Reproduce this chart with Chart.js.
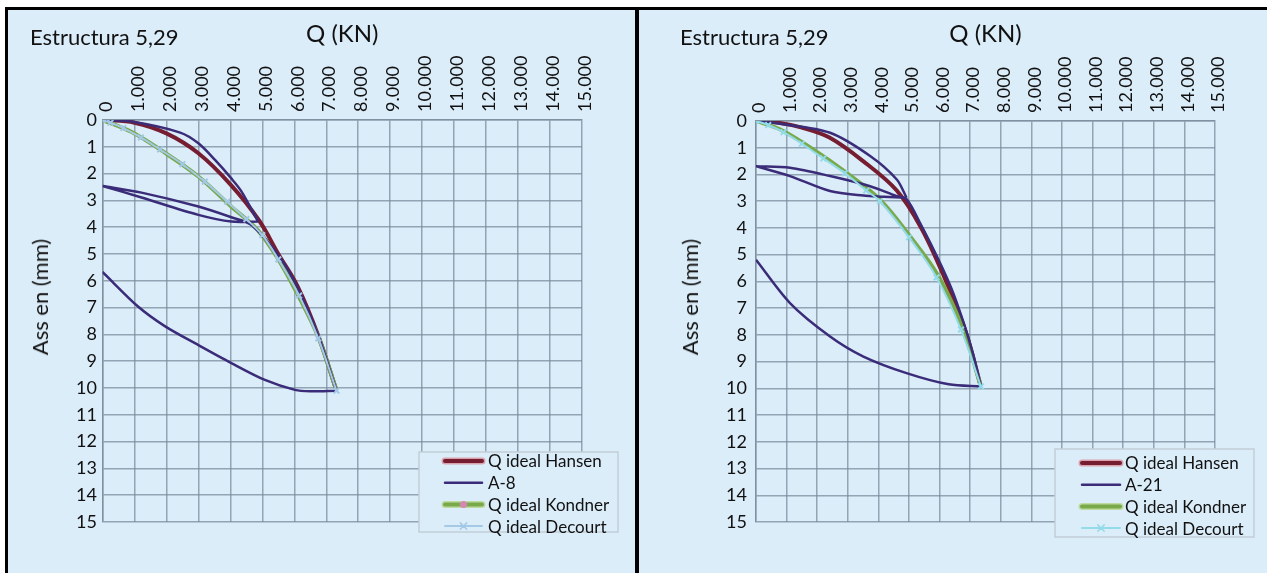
<!DOCTYPE html>
<html>
<head>
<meta charset="utf-8">
<script src="https://cdn.jsdelivr.net/npm/chart.js@4.4.0/dist/chart.umd.min.js"></script>
<style>
  body { margin: 0; background: #fff; font-family: Lato, "Open Sans", sans-serif; }
  #wrap { position: relative; width: 1267px; height: 573px; overflow: hidden; }
  .panel { position: absolute; top: 10px; height: 563px; background: #dcedfa; }
  .panel canvas { position: absolute; left: 0; top: 0; }
  .bar { position: absolute; background: #000; }
  .title { position: absolute; top: 14px; font-size: 22px; line-height: 26px; color: #111; white-space: nowrap; }
  .ytitle { position: absolute; font-size: 22px; line-height: 26px; color: #111; white-space: nowrap;
            transform: translate(-50%, -50%) rotate(-90deg); }
</style>
</head>
<body>
<div id="wrap">
  <div class="panel" style="left:8px;width:627px">
    <canvas id="leftChart" width="627" height="563"></canvas>
    <div class="title" style="left:22px">Estructura 5,29</div>
    <div class="ytitle" style="left:32px;top:287px">Ass en (mm)</div>
  </div>
  <div class="panel" style="left:639px;width:628px">
    <canvas id="rightChart" width="628" height="563"></canvas>
    <div class="title" style="left:41px">Estructura 5,29</div>
    <div class="ytitle" style="left:51px;top:287px">Ass en (mm)</div>
  </div>
  <div class="bar" style="left:5px;top:7px;width:1262px;height:3px"></div>
  <div class="bar" style="left:5px;top:7px;width:3px;height:566px"></div>
  <div class="bar" style="left:635px;top:7px;width:4px;height:566px"></div>
</div>

<script>
// Axis ranges
const loadMax = 15000;   // Q (KN)
const loadStep = 1000;
const settleMax = 15;    // Ass (mm)

// Left chart - load test A-8
const leftNames = ["Q ideal Hansen", "A-8", "Q ideal Kondner", "Q ideal Decourt"];
const leftHansenQ = [0, 1000, 2000, 3000, 4000, 4900, 5500, 6100, 6750, 7320];
const leftHansenS = [0, 0.1, 0.5, 1.24, 2.4, 3.75, 5.0, 6.2, 8.05, 10.1];
const leftTestQ = [0, 900, 2430, 3000, 3520, 4030, 4350, 4870, 4030, 3000, 1220, 0, 1220, 3000, 4030, 4660,
                   5500, 6100, 6750, 7320, 6500, 6020, 5080, 4030, 3000, 1960, 1120, 0];
const leftTestS = [0, 0.06, 0.47, 0.87, 1.49, 2.18, 2.67, 3.79, 3.79, 3.54, 2.89, 2.46, 2.71, 3.23, 3.63, 3.92,
                   5.05, 6.25, 8.05, 10.1, 10.12, 10.07, 9.7, 9.07, 8.4, 7.7, 6.97, 5.67];
const leftTestTurns = [7, 11, 19];   // load reversals (sharp corners)
const leftKondnerQ = [0, 900, 2000, 3000, 4000, 4850, 5500, 6100, 6750, 7320];
const leftKondnerS = [0, 0.44, 1.26, 2.11, 3.2, 4.1, 5.2, 6.5, 8.1, 10.1];
const leftDecourtQ = [0, 250, 650, 1200, 1800, 2500, 3200, 3900, 4500, 5000, 5500, 6150, 6750, 7320];
const leftDecourtS = [0, 0.1, 0.3, 0.65, 1.1, 1.65, 2.3, 3.05, 3.7, 4.3, 5.2, 6.55, 8.15, 10.1];

// Right chart - load test A-21
const rightNames = ["Q ideal Hansen", "A-21", "Q ideal Kondner", "Q ideal Decourt"];
const rightHansenQ = [0, 700, 1500, 2400, 3500, 4600, 5400, 6100, 6830, 7350];
const rightHansenS = [0, 0.06, 0.25, 0.62, 1.5, 2.6, 4.0, 5.7, 7.8, 9.93];
const rightTestQ = [0, 780, 2420, 3730, 4600, 4920, 4170, 3510, 2420, 1110, 0, 1110, 2420, 3730, 4600, 4920,
                    5400, 5950, 6400, 6800, 7100, 7350, 6300, 4920, 3510, 2420, 1110, 0];
const rightTestS = [0, 0.1, 0.44, 1.31, 2.19, 2.87, 2.83, 2.79, 2.62, 2.06, 1.69, 1.75, 2.06, 2.44, 2.81, 2.92,
                    3.9, 5.15, 6.3, 7.6, 8.74, 9.93, 9.85, 9.43, 8.81, 8.06, 6.81, 5.19];
const rightTestTurns = [5, 10, 21];
const rightKondnerQ = [0, 780, 1870, 2960, 4050, 5030, 5960, 6770, 7350];
const rightKondnerS = [0, 0.31, 1.06, 1.94, 2.94, 4.31, 5.8, 7.8, 9.93];
const rightDecourtQ = [0, 400, 900, 1500, 2200, 2900, 3600, 4050, 5000, 5900, 6700, 7350];
const rightDecourtS = [0, 0.15, 0.42, 0.85, 1.4, 1.95, 2.6, 3.0, 4.35, 5.85, 7.8, 9.93];

const FONT = "Lato, 'Open Sans', sans-serif";
const gridColor = "rgba(120,140,156,0.75)";

// build {x,y} points; at a turn the line is broken and restarted so the
// spline does not overshoot the reversal
function pts(qs, ss, turns) {
  const out = [];
  qs.forEach((q, i) => {
    out.push({ x: q, y: ss[i] });
    if (turns && turns.includes(i)) {
      out.push({ x: q, y: null });
      out.push({ x: q, y: ss[i] });
    }
  });
  return out;
}

function fmtLoad(v) {
  return v === 0 ? "0" : (v / 1000) + ".000";
}

// legend box drawn inside the canvas (it overlaps the plot corner)
const boxLegend = {
  id: "boxLegend",
  afterDraw(chart, args, o) {
    const ctx = chart.ctx;
    ctx.save();
    ctx.fillStyle = "#dcedfa";
    ctx.fillRect(o.x, o.y, o.w, o.h);
    ctx.strokeStyle = "#c2ced8";
    ctx.lineWidth = 1.5;
    ctx.strokeRect(o.x, o.y, o.w, o.h);
    chart.data.datasets.forEach((ds, i) => {
      const y = o.y + o.top + i * o.step;
      const x1 = o.x + o.lineX, x2 = x1 + o.lineW;
      ctx.lineCap = "round";
      if (ds.halo) {
        ctx.strokeStyle = ds.halo;
        ctx.lineWidth = ds.borderWidth + 3;
        ctx.beginPath(); ctx.moveTo(x1, y); ctx.lineTo(x2, y); ctx.stroke();
      }
      ctx.strokeStyle = ds.borderColor;
      ctx.lineWidth = ds.borderWidth;
      ctx.beginPath(); ctx.moveTo(x1, y); ctx.lineTo(x2, y); ctx.stroke();
      const cx = (x1 + x2) / 2;
      if (ds.legendDot) {
        ctx.fillStyle = ds.legendDot;
        ctx.beginPath(); ctx.arc(cx, y, 3.5, 0, Math.PI * 2); ctx.fill();
      }
      if (ds.pointRadius > 0) {
        const r = ds.pointRadius * 0.8;
        ctx.strokeStyle = ds.pointBorderColor;
        ctx.lineWidth = 1.5;
        ctx.beginPath();
        ctx.moveTo(cx - r, y - r); ctx.lineTo(cx + r, y + r);
        ctx.moveTo(cx - r, y + r); ctx.lineTo(cx + r, y - r);
        ctx.stroke();
      }
      ctx.fillStyle = "#111";
      ctx.font = "17px " + FONT;
      ctx.textBaseline = "middle";
      ctx.fillText(ds.label, o.x + o.textX, y + 1);
    });
    ctx.restore();
  }
};

function makeChart(id, names, series, turns, cfg) {
  const datasets = [
    { label: names[0], data: pts(series[0][0], series[0][1]), borderColor: "#761d31", halo: "#d9a1ae",
      borderWidth: 4, pointRadius: 0, tension: 0.35, order: 4 },
    { label: names[1], data: pts(series[1][0], series[1][1], turns), borderColor: "#3a2c78",
      borderWidth: 2.5, pointRadius: 0, tension: 0.3, order: 2 },
    { label: names[2], data: pts(series[2][0], series[2][1]), borderColor: "#79a94a", halo: "#bedb9f",
      borderWidth: 4, pointRadius: 0, tension: 0.35, order: 3, legendDot: cfg.kondnerDot },
    { label: names[3], data: pts(series[3][0], series[3][1]), borderColor: cfg.decourt,
      borderWidth: 2, pointRadius: 4, pointStyle: "crossRot", pointBorderColor: cfg.decourt,
      pointBorderWidth: 2, tension: 0.35, order: 1 }
  ];

  return new Chart(document.getElementById(id), {
    type: "scatter",
    data: { datasets: datasets },
    plugins: [boxLegend],
    options: {
      responsive: false,
      animation: false,
      showLine: true,
      spanGaps: false,
      layout: { padding: { left: 0, top: 0, right: cfg.padRight, bottom: cfg.padBottom } },
      plugins: {
        legend: { display: false },
        tooltip: { enabled: false },
        boxLegend: cfg.legend
      },
      scales: {
        x: {
          type: "linear", position: "top", min: 0, max: loadMax,
          ticks: { stepSize: loadStep, autoSkip: false, minRotation: 90, maxRotation: 90, padding: 8,
                   labelOffset: 25, color: "#111", font: { family: FONT, size: 18 }, callback: fmtLoad },
          grid: { color: gridColor, lineWidth: 1.5, drawTicks: false },
          border: { color: gridColor, width: 1.5 },
          title: { display: true, text: "Q (KN)", color: "#111", font: { family: FONT, size: 24 },
                   padding: { top: 10, bottom: 0 } },
          afterFit: s => { s.height = cfg.xHeight; }
        },
        y: {
          type: "linear", reverse: true, min: 0, max: settleMax,
          ticks: { stepSize: 1, padding: cfg.yPad, color: "#111", font: { family: FONT, size: 18 } },
          grid: { color: gridColor, lineWidth: 1.5, drawTicks: false },
          border: { color: gridColor, width: 1.5 },
          afterFit: s => { s.width = cfg.yWidth; }
        }
      }
    }
  });
}

makeChart("leftChart", leftNames, [
  [leftHansenQ, leftHansenS], [leftTestQ, leftTestS],
  [leftKondnerQ, leftKondnerS], [leftDecourtQ, leftDecourtS]
], leftTestTurns, {
  padRight: 53, padBottom: 51, xHeight: 110, yWidth: 94.5, yPad: 5.5,
  decourt: "#a4c9e6", kondnerDot: "#d587b4",
  legend: { x: 411, y: 442, w: 199, h: 80, top: 9, step: 21.7, lineX: 26, lineW: 37, textX: 69 }
});

makeChart("rightChart", rightNames, [
  [rightHansenQ, rightHansenS], [rightTestQ, rightTestS],
  [rightKondnerQ, rightKondnerS], [rightDecourtQ, rightDecourtS]
], rightTestTurns, {
  padRight: 52, padBottom: 51, xHeight: 111, yWidth: 117, yPad: 9,
  decourt: "#93dbe8", kondnerDot: null,
  legend: { x: 416, y: 439, w: 199, h: 88, top: 14, step: 21.7, lineX: 27, lineW: 38, textX: 70 }
});
</script>
</body>
</html>
